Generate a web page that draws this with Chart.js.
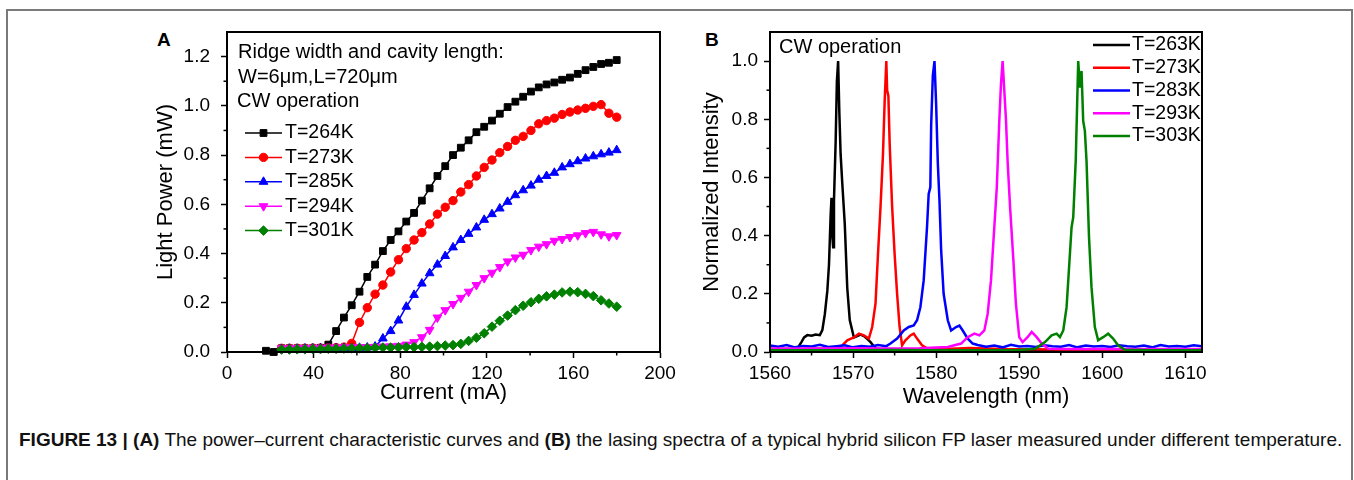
<!DOCTYPE html>
<html>
<head>
<meta charset="utf-8">
<script src="https://cdn.jsdelivr.net/npm/chart.js@4.4.1/dist/chart.umd.min.js"></script>
<style>
  body { margin: 0; background: #fff; font-family: 'Liberation Sans', Arial, sans-serif; }
  #page { position: relative; width: 1354px; height: 480px; overflow: hidden; background: #fff; }
  .frame { position: absolute; left: 6px; top: 9px; width: 1343px; height: 480px; border: 2px solid #7a7a7a; border-bottom: none; }
  .plot { position: absolute; }
  .letter { position: absolute; font-weight: bold; font-size: 19px; line-height: 19px; }
  .caption { position: absolute; left: 19px; top: 429px; font-size: 19px; white-space: nowrap; color: #111; }
</style>
</head>
<body>
<div id="page">
  <div class="frame"></div>
  <div class="letter" style="left:157px; top:30px;">A</div>
  <div class="letter" style="left:705px; top:30px;">B</div>
  <canvas id="chartA" class="plot" width="540" height="390" style="left:140px; top:20px;"></canvas>
  <canvas id="chartB" class="plot" width="540" height="390" style="left:690px; top:20px;"></canvas>
  <div class="caption"><b>FIGURE 13 | (A)</b> The power–current characteristic curves and <b>(B)</b> the lasing spectra of a typical hybrid silicon FP laser measured under different temperature.</div>
</div>
<script>
const FONT = "'Liberation Sans', Arial, sans-serif";
Chart.defaults.font.family = FONT;
Chart.defaults.color = '#000';

// ---- Panel A: light power vs current ----
const current = [18, 21.6, 25.2, 28.8, 32.4, 36, 39.6, 43.2, 46.8, 50.4, 54, 57.6, 61.2, 64.8, 68.4, 72, 75.6, 79.2, 82.8, 86.4, 90, 93.6, 97.2, 100.8, 104.4, 108, 111.6, 115.2, 118.8, 122.4, 126, 129.6, 133.2, 136.8, 140.4, 144, 147.6, 151.2, 154.8, 158.4, 162, 165.6, 169.2, 172.8, 176.4, 180];
const powerT264 = [0.005, 0.0, 0.015, 0.015, 0.015, 0.015, 0.015, 0.017, 0.03, 0.085, 0.14, 0.19, 0.245, 0.305, 0.355, 0.41, 0.455, 0.49, 0.53, 0.565, 0.615, 0.665, 0.715, 0.755, 0.8, 0.83, 0.86, 0.893, 0.915, 0.94, 0.968, 0.995, 1.017, 1.037, 1.058, 1.075, 1.087, 1.095, 1.106, 1.115, 1.13, 1.145, 1.158, 1.17, 1.175, 1.186];
const powerT273 = [null, null, 0.015, 0.015, 0.015, 0.015, 0.016, 0.016, 0.017, 0.018, 0.02, 0.035, 0.12, 0.18, 0.235, 0.272, 0.325, 0.375, 0.42, 0.455, 0.485, 0.52, 0.56, 0.588, 0.615, 0.65, 0.68, 0.715, 0.75, 0.78, 0.81, 0.835, 0.86, 0.876, 0.9, 0.927, 0.94, 0.95, 0.965, 0.975, 0.983, 0.99, 0.998, 1.005, 0.97, 0.954];
const powerT285 = [null, null, 0.012, 0.013, 0.013, 0.014, 0.014, 0.015, 0.015, 0.015, 0.016, 0.016, 0.017, 0.018, 0.022, 0.055, 0.085, 0.128, 0.184, 0.232, 0.278, 0.32, 0.355, 0.39, 0.425, 0.455, 0.48, 0.506, 0.537, 0.56, 0.583, 0.61, 0.637, 0.657, 0.676, 0.7, 0.715, 0.728, 0.75, 0.763, 0.775, 0.786, 0.795, 0.803, 0.81, 0.82];
const powerT294 = [null, null, 0.015, 0.015, 0.016, 0.016, 0.017, 0.017, 0.018, 0.018, 0.019, 0.019, 0.02, 0.02, 0.021, 0.022, 0.023, 0.025, 0.03, 0.04, 0.06, 0.09, 0.14, 0.17, 0.195, 0.22, 0.245, 0.272, 0.3, 0.322, 0.345, 0.368, 0.384, 0.395, 0.414, 0.428, 0.438, 0.452, 0.459, 0.467, 0.474, 0.483, 0.488, 0.478, 0.47, 0.475];
const powerT301 = [null, null, 0.01, 0.01, 0.011, 0.011, 0.012, 0.012, 0.013, 0.013, 0.014, 0.015, 0.015, 0.016, 0.017, 0.018, 0.018, 0.019, 0.02, 0.02, 0.021, 0.022, 0.024, 0.026, 0.028, 0.033, 0.045, 0.058, 0.076, 0.103, 0.127, 0.148, 0.17, 0.188, 0.202, 0.216, 0.226, 0.233, 0.242, 0.245, 0.243, 0.236, 0.227, 0.21, 0.197, 0.184];
const currentTicks = [0, 40, 80, 120, 160, 200];
const powerTicks = [0, 0.2, 0.4, 0.6, 0.8, 1.0, 1.2];

// ---- Panel B: lasing spectra ----
const wlT263 = [1560, 1561, 1562, 1563, 1563.4, 1563.8, 1564.1, 1564.5, 1565, 1565.5, 1566, 1566.3, 1566.6, 1566.9, 1567.1, 1567.3, 1567.4, 1567.5, 1567.6, 1567.7, 1567.9, 1568.05, 1568.2, 1568.35, 1568.5, 1568.7, 1569, 1569.3, 1569.6, 1570.1, 1570.5, 1570.9, 1571.3, 1571.7, 1572.1, 1572.5, 1572.9, 1574, 1576, 1580, 1590, 1600, 1612];
const intT263 = [0.006, 0.005, 0.006, 0.007, 0.017, 0.035, 0.05, 0.058, 0.056, 0.06, 0.058, 0.075, 0.13, 0.21, 0.3, 0.47, 0.53, 0.4, 0.36, 0.52, 0.72, 0.93, 1.0, 0.82, 0.68, 0.58, 0.44, 0.22, 0.11, 0.05, 0.055, 0.06, 0.055, 0.045, 0.034, 0.02, 0.01, 0.005, 0.004, 0.004, 0.004, 0.004, 0.004];
const wlT273 = [1560, 1563, 1566, 1568, 1568.7, 1569.3, 1570.1, 1570.7, 1571.3, 1571.9, 1572.3, 1572.7, 1573, 1573.3, 1573.6, 1573.8, 1573.9, 1574, 1574.1, 1574.25, 1574.4, 1574.7, 1575, 1575.3, 1575.6, 1575.9, 1576.3, 1576.9, 1577.3, 1577.7, 1578.3, 1579, 1581, 1584, 1588, 1595, 1605, 1612];
const intT273 = [0.01, 0.01, 0.011, 0.012, 0.023, 0.04, 0.05, 0.063, 0.057, 0.046, 0.086, 0.166, 0.337, 0.497, 0.68, 0.86, 0.93, 1.0, 0.9, 0.88, 0.72, 0.5, 0.337, 0.2, 0.086, 0.023, 0.04, 0.057, 0.063, 0.046, 0.023, 0.011, 0.01, 0.014, 0.01, 0.009, 0.009, 0.009];
const wlT283 = [1560, 1561, 1562, 1563, 1564, 1565, 1566, 1567, 1568, 1569, 1570, 1571, 1572, 1573, 1574, 1574.5, 1575.3, 1576.1, 1576.7, 1577.3, 1577.7, 1578.1, 1578.5, 1578.9, 1579.1, 1579.3, 1579.4, 1579.6, 1579.8, 1580, 1580.2, 1580.4, 1580.6, 1580.9, 1581.4, 1581.8, 1582.4, 1582.8, 1583.2, 1583.8, 1584.4, 1585, 1586, 1587, 1588, 1589, 1590, 1591, 1592, 1593, 1594, 1595, 1596, 1597, 1598, 1599, 1600, 1601, 1602, 1603, 1604, 1605, 1606, 1607, 1608, 1609, 1610, 1611, 1612];
const intT283 = [0.022, 0.018, 0.024, 0.016, 0.021, 0.019, 0.025, 0.017, 0.02, 0.023, 0.016, 0.021, 0.018, 0.024, 0.02, 0.029, 0.046, 0.074, 0.086, 0.091, 0.109, 0.154, 0.246, 0.429, 0.543, 0.566, 0.78, 0.95, 1.0, 0.85, 0.65, 0.52, 0.35, 0.2, 0.109, 0.074, 0.086, 0.091, 0.074, 0.046, 0.029, 0.024, 0.018, 0.022, 0.016, 0.025, 0.019, 0.021, 0.017, 0.023, 0.02, 0.018, 0.024, 0.016, 0.022, 0.019, 0.021, 0.017, 0.023, 0.02, 0.018, 0.022, 0.016, 0.024, 0.019, 0.021, 0.018, 0.023, 0.02];
const wlT293 = [1560, 1565, 1570, 1575, 1578, 1581.4, 1583, 1583.8, 1584.6, 1585.2, 1585.8, 1586.2, 1586.6, 1587, 1587.3, 1587.6, 1587.8, 1588, 1588.2, 1588.4, 1588.6, 1588.9, 1589.3, 1589.6, 1590, 1590.4, 1591, 1591.5, 1592.1, 1592.7, 1593.5, 1597, 1602, 1607, 1612];
const intT293 = [0.012, 0.012, 0.013, 0.012, 0.013, 0.017, 0.029, 0.051, 0.063, 0.057, 0.074, 0.131, 0.246, 0.429, 0.566, 0.794, 0.92, 1.0, 0.9, 0.8, 0.657, 0.497, 0.314, 0.166, 0.051, 0.034, 0.051, 0.069, 0.051, 0.029, 0.011, 0.01, 0.01, 0.01, 0.01];
const wlT303 = [1560, 1565, 1570, 1575, 1580, 1585, 1590, 1591.9, 1593.1, 1593.9, 1594.5, 1594.9, 1595.3, 1595.7, 1596.1, 1596.3, 1596.5, 1596.8, 1597.1, 1597.3, 1597.5, 1597.7, 1597.9, 1598.1, 1598.4, 1598.7, 1599.1, 1599.5, 1600.1, 1600.7, 1601.3, 1601.9, 1602.7, 1606, 1612];
const intT303 = [0.006, 0.006, 0.006, 0.007, 0.006, 0.006, 0.007, 0.011, 0.034, 0.057, 0.063, 0.051, 0.074, 0.154, 0.337, 0.429, 0.463, 0.657, 1.0, 0.909, 0.966, 0.794, 0.76, 0.657, 0.394, 0.223, 0.086, 0.04, 0.051, 0.063, 0.046, 0.023, 0.008, 0.006, 0.006];
const wavelengthTicks = [1560, 1570, 1580, 1590, 1600, 1610];
const intensityTicks = [0, 0.2, 0.4, 0.6, 0.8, 1.0];

function toPoints(xs, ys) {
  return xs.map((x, i) => ({ x: x, y: ys[i] })).filter(p => p.y !== null);
}

// box around the plot + short minor ticks half way between major ones
const boxAndMinor = {
  id: 'boxAndMinor',
  afterDraw(chart) {
    const { ctx, chartArea: a } = chart;
    ctx.save();
    ctx.strokeStyle = '#000';
    ctx.lineWidth = 2;
    ctx.strokeRect(a.left, a.top, a.right - a.left, a.bottom - a.top);
    ctx.lineWidth = 1.5;
    ['x', 'y'].forEach(id => {
      const s = chart.scales[id];
      const vals = s.ticks.map(t => t.value);
      for (let i = 0; i < vals.length - 1; i++) {
        const p = s.getPixelForValue((vals[i] + vals[i + 1]) / 2);
        ctx.beginPath();
        if (id === 'x') { ctx.moveTo(p, a.bottom); ctx.lineTo(p, a.bottom + 3.5); }
        else { ctx.moveTo(a.left, p); ctx.lineTo(a.left - 3.5, p); }
        ctx.stroke();
      }
    });
    ctx.restore();
  }
};

// in-plot notes and the line+marker legend
function notesPlugin(notes, lg) {
  return {
    id: 'notes',
    afterDraw(chart) {
      const { ctx, chartArea: a } = chart;
      ctx.save();
      ctx.textBaseline = 'middle';
      ctx.fillStyle = '#000';
      ctx.font = '20px ' + FONT;
      notes.forEach(n => ctx.fillText(n.text, a.left + n.dx, a.top + n.dy));
      ctx.font = '19.5px ' + FONT;
      chart.data.datasets.forEach((ds, i) => {
        const y = a.top + lg.dy + i * lg.gap;
        const x0 = a.left + lg.dx;
        ctx.strokeStyle = ds.borderColor;
        ctx.fillStyle = ds.borderColor;
        ctx.lineWidth = ds.borderWidth;
        ctx.beginPath();
        ctx.moveTo(x0, y);
        ctx.lineTo(x0 + lg.len, y);
        ctx.stroke();
        if (ds.pointRadius > 0) {
          ctx.lineWidth = 1;
          Chart.helpers.drawPoint(ctx, { pointStyle: ds.pointStyle, rotation: ds.pointRotation || 0, radius: ds.pointRadius, borderWidth: 1 }, x0 + lg.len / 2, y);
        }
        ctx.fillStyle = '#000';
        ctx.fillText(ds.label, x0 + lg.len + lg.textGap, y);
      });
      ctx.restore();
    }
  };
}

function axis(opts) {
  return {
    type: 'linear',
    min: opts.min,
    max: opts.max,
    afterBuildTicks: s => { s.ticks = opts.ticks.map(v => ({ value: v })); },
    afterFit: s => {
      if (opts.size.h) s.height = opts.size.h; else s.width = opts.size.w;
      // the plot box is fixed, so no extra room for overhanging labels
      s.paddingTop = 0; s.paddingBottom = 0; s.paddingLeft = 0; s.paddingRight = 0;
    },
    ticks: { font: { size: 19 }, color: '#000', padding: opts.pad, maxRotation: 0, autoSkip: false, callback: opts.fmt },
    grid: { drawOnChartArea: false, tickLength: 6, tickWidth: 1.5, tickColor: '#000' },
    border: { color: '#000', width: 2 },
    title: { display: true, text: opts.title, font: { size: 22 }, color: '#000', padding: opts.titlePad }
  };
}

function markerSet(label, color, style, rot, radius, ys, order) {
  return {
    label: label, data: toPoints(current, ys),
    borderColor: color, backgroundColor: color,
    borderWidth: 1.5, pointStyle: style, pointRotation: rot, pointRadius: radius,
    pointBorderWidth: 1, pointBackgroundColor: color, pointBorderColor: color,
    tension: 0, clip: false, order: order
  };
}

new Chart(document.getElementById('chartA'), {
  type: 'line',
  data: {
    datasets: [
      markerSet('T=264K', '#000000', 'rect', 0, 4.8, powerT264, 5),
      markerSet('T=273K', '#ff0000', 'circle', 0, 4.2, powerT273, 4),
      markerSet('T=285K', '#0000ff', 'triangle', 0, 5, powerT285, 3),
      markerSet('T=294K', '#ff00ff', 'triangle', 180, 5, powerT294, 2),
      markerSet('T=301K', '#008000', 'rectRot', 0, 4.8, powerT301, 1)
    ]
  },
  options: {
    responsive: false,
    animation: false,
    layout: { padding: { left: 0, right: 20, top: 12, bottom: 0 } },
    plugins: { legend: { display: false }, tooltip: { enabled: false } },
    scales: {
      x: axis({ min: 0, max: 200, ticks: currentTicks, size: { h: 58 }, pad: 4, fmt: v => String(v), title: 'Current (mA)', titlePad: { bottom: 4 } }),
      y: axis({ min: 0, max: 1.3, ticks: powerTicks, size: { w: 87 }, pad: 11, fmt: v => v.toFixed(1), title: 'Light Power (mW)', titlePad: { top: 13 } })
    }
  },
  plugins: [boxAndMinor, notesPlugin([
    { text: 'Ridge width and cavity length:', dx: 11, dy: 20 },
    { text: 'W=6μm,L=720μm', dx: 11, dy: 45 },
    { text: 'CW operation', dx: 10, dy: 69 }
  ], { dx: 18, dy: 101, gap: 24.4, len: 37, textGap: 3 })]
});

function lineSet(label, color, xs, ys, order) {
  return {
    label: label, data: toPoints(xs, ys),
    borderColor: color, backgroundColor: color,
    borderWidth: 2.5, pointRadius: 0, tension: 0, order: order
  };
}

new Chart(document.getElementById('chartB'), {
  type: 'line',
  data: {
    datasets: [
      lineSet('T=263K', '#000000', wlT263, intT263, 5),
      lineSet('T=273K', '#ff0000', wlT273, intT273, 4),
      lineSet('T=283K', '#0000ff', wlT283, intT283, 3),
      lineSet('T=293K', '#ff00ff', wlT293, intT293, 2),
      lineSet('T=303K', '#008000', wlT303, intT303, 1)
    ]
  },
  options: {
    responsive: false,
    animation: false,
    layout: { padding: { left: 0, right: 28, top: 12, bottom: 0 } },
    plugins: { legend: { display: false }, tooltip: { enabled: false } },
    scales: {
      x: axis({ min: 1560, max: 1612, ticks: wavelengthTicks, size: { h: 58 }, pad: 4, fmt: v => String(v), title: 'Wavelength (nm)', titlePad: { bottom: 0 } }),
      y: axis({ min: 0, max: 1.1, ticks: intensityTicks, size: { w: 80 }, pad: 6, fmt: v => v.toFixed(1), title: 'Normalized Intensity', titlePad: { top: 9 } })
    }
  },
  plugins: [boxAndMinor, notesPlugin([
    { text: 'CW operation', dx: 9, dy: 15 }
  ], { dx: 323, dy: 13, gap: 22.75, len: 37, textGap: 2 })]
});
</script>
</body>
</html>
